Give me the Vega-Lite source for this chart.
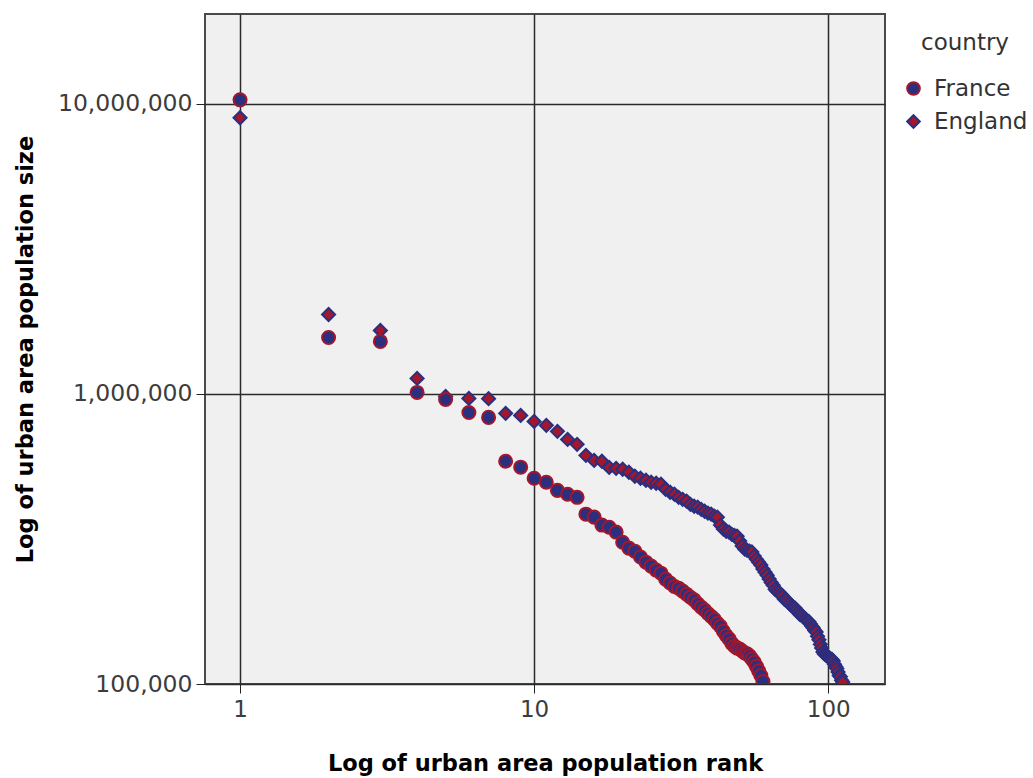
{
  "$schema": "https://vega.github.io/schema/vega-lite/v6.json",
  "autosize": {"type": "none"},
  "padding": {"left": 205, "top": 14, "right": 148, "bottom": 94},
  "width": 680,
  "height": 670,
  "background": "white",
  "config": {
    "view": {"fill": "#f0f0f0", "stroke": "#4a4a4a", "strokeWidth": 2},
    "font": "DejaVu Sans",
    "legend": {
      "orient": "none", "legendX": 697, "legendY": 18,
      "titleFont": "DejaVu Sans", "titleFontSize": 23, "titleFontWeight": "normal", "titleColor": "#333",
      "titleAnchor": "middle", "titlePadding": 22,
      "labelFont": "DejaVu Sans", "labelFontSize": 23, "labelColor": "#333",
      "symbolSize": 160, "symbolStrokeWidth": 2, "rowPadding": 9, "labelOffset": 9
    }
  },
  "data": {
    "values": [
      {"country":"England","rank":1,"population":8950000},
      {"country":"England","rank":2,"population":1878000},
      {"country":"England","rank":3,"population":1654000},
      {"country":"England","rank":4,"population":1131000},
      {"country":"England","rank":5,"population":980000},
      {"country":"England","rank":6,"population":965000},
      {"country":"England","rank":7,"population":963000},
      {"country":"England","rank":8,"population":857000},
      {"country":"England","rank":9,"population":843000},
      {"country":"England","rank":10,"population":804000},
      {"country":"England","rank":11,"population":779000},
      {"country":"England","rank":12,"population":743000},
      {"country":"England","rank":13,"population":697000},
      {"country":"England","rank":14,"population":670000},
      {"country":"England","rank":15,"population":614000},
      {"country":"England","rank":16,"population":590000},
      {"country":"England","rank":17,"population":586000},
      {"country":"England","rank":18,"population":558000},
      {"country":"England","rank":19,"population":554000},
      {"country":"England","rank":20,"population":550000},
      {"country":"England","rank":21,"population":537000},
      {"country":"England","rank":22,"population":520000},
      {"country":"England","rank":23,"population":512000},
      {"country":"England","rank":24,"population":504000},
      {"country":"England","rank":25,"population":496000},
      {"country":"England","rank":26,"population":492000},
      {"country":"England","rank":27,"population":488000},
      {"country":"England","rank":28,"population":469000},
      {"country":"England","rank":29,"population":458000},
      {"country":"England","rank":30,"population":451000},
      {"country":"England","rank":31,"population":440000},
      {"country":"England","rank":32,"population":433000},
      {"country":"England","rank":33,"population":427000},
      {"country":"England","rank":34,"population":416000},
      {"country":"England","rank":35,"population":410000},
      {"country":"England","rank":36,"population":407000},
      {"country":"England","rank":37,"population":400000},
      {"country":"England","rank":38,"population":394000},
      {"country":"England","rank":39,"population":388000},
      {"country":"England","rank":40,"population":385000},
      {"country":"England","rank":41,"population":379000},
      {"country":"England","rank":42,"population":376000},
      {"country":"England","rank":43,"population":353000},
      {"country":"England","rank":44,"population":342000},
      {"country":"England","rank":45,"population":336000},
      {"country":"England","rank":46,"population":334000},
      {"country":"England","rank":47,"population":328000},
      {"country":"England","rank":48,"population":325000},
      {"country":"England","rank":49,"population":323000},
      {"country":"England","rank":50,"population":311000},
      {"country":"England","rank":51,"population":299000},
      {"country":"England","rank":52,"population":292000},
      {"country":"England","rank":53,"population":289000},
      {"country":"England","rank":54,"population":287000},
      {"country":"England","rank":55,"population":285000},
      {"country":"England","rank":56,"population":276000},
      {"country":"England","rank":57,"population":269000},
      {"country":"England","rank":58,"population":263000},
      {"country":"England","rank":59,"population":257000},
      {"country":"England","rank":60,"population":249000},
      {"country":"England","rank":61,"population":243000},
      {"country":"England","rank":62,"population":237000},
      {"country":"England","rank":63,"population":230000},
      {"country":"England","rank":64,"population":224000},
      {"country":"England","rank":65,"population":219000},
      {"country":"England","rank":66,"population":212000},
      {"country":"England","rank":67,"population":209000},
      {"country":"England","rank":68,"population":207000},
      {"country":"England","rank":69,"population":204000},
      {"country":"England","rank":70,"population":201000},
      {"country":"England","rank":71,"population":196000},
      {"country":"England","rank":72,"population":195000},
      {"country":"England","rank":73,"population":192000},
      {"country":"England","rank":74,"population":189000},
      {"country":"England","rank":75,"population":186000},
      {"country":"England","rank":76,"population":184000},
      {"country":"England","rank":77,"population":183000},
      {"country":"England","rank":78,"population":180000},
      {"country":"England","rank":79,"population":177000},
      {"country":"England","rank":80,"population":174000},
      {"country":"England","rank":81,"population":173000},
      {"country":"England","rank":82,"population":171000},
      {"country":"England","rank":83,"population":169000},
      {"country":"England","rank":84,"population":167000},
      {"country":"England","rank":85,"population":165000},
      {"country":"England","rank":86,"population":164000},
      {"country":"England","rank":87,"population":161000},
      {"country":"England","rank":88,"population":158000},
      {"country":"England","rank":89,"population":156000},
      {"country":"England","rank":90,"population":153000},
      {"country":"England","rank":91,"population":151000},
      {"country":"England","rank":92,"population":146000},
      {"country":"England","rank":93,"population":142000},
      {"country":"England","rank":94,"population":137000},
      {"country":"England","rank":95,"population":133000},
      {"country":"England","rank":96,"population":129000},
      {"country":"England","rank":97,"population":127000},
      {"country":"England","rank":98,"population":126000},
      {"country":"England","rank":99,"population":125000},
      {"country":"England","rank":100,"population":124000},
      {"country":"England","rank":101,"population":123000},
      {"country":"England","rank":102,"population":122000},
      {"country":"England","rank":103,"population":121500},
      {"country":"England","rank":104,"population":120000},
      {"country":"England","rank":105,"population":117000},
      {"country":"England","rank":106,"population":115000},
      {"country":"England","rank":107,"population":113000},
      {"country":"England","rank":108,"population":110000},
      {"country":"England","rank":109,"population":107000},
      {"country":"England","rank":110,"population":106000},
      {"country":"England","rank":111,"population":103000},
      {"country":"England","rank":112,"population":101600},
      {"country":"France","rank":1,"population":10320000},
      {"country":"France","rank":2,"population":1565000},
      {"country":"France","rank":3,"population":1517000},
      {"country":"France","rank":4,"population":1012000},
      {"country":"France","rank":5,"population":957000},
      {"country":"France","rank":6,"population":863000},
      {"country":"France","rank":7,"population":830000},
      {"country":"France","rank":8,"population":586000},
      {"country":"France","rank":9,"population":559000},
      {"country":"France","rank":10,"population":512000},
      {"country":"France","rank":11,"population":496000},
      {"country":"France","rank":12,"population":465000},
      {"country":"France","rank":13,"population":451000},
      {"country":"France","rank":14,"population":440000},
      {"country":"France","rank":15,"population":385000},
      {"country":"France","rank":16,"population":376000},
      {"country":"France","rank":17,"population":353000},
      {"country":"France","rank":18,"population":347000},
      {"country":"France","rank":19,"population":334000},
      {"country":"France","rank":20,"population":308000},
      {"country":"France","rank":21,"population":294000},
      {"country":"France","rank":22,"population":287000},
      {"country":"France","rank":23,"population":274000},
      {"country":"France","rank":24,"population":263000},
      {"country":"France","rank":25,"population":255000},
      {"country":"France","rank":26,"population":247000},
      {"country":"France","rank":27,"population":241000},
      {"country":"France","rank":28,"population":230000},
      {"country":"France","rank":29,"population":223000},
      {"country":"France","rank":30,"population":217000},
      {"country":"France","rank":31,"population":214000},
      {"country":"France","rank":32,"population":209000},
      {"country":"France","rank":33,"population":204000},
      {"country":"France","rank":34,"population":199000},
      {"country":"France","rank":35,"population":195000},
      {"country":"France","rank":36,"population":189000},
      {"country":"France","rank":37,"population":184000},
      {"country":"France","rank":38,"population":180000},
      {"country":"France","rank":39,"population":175000},
      {"country":"France","rank":40,"population":171000},
      {"country":"France","rank":41,"population":167000},
      {"country":"France","rank":42,"population":162000},
      {"country":"France","rank":43,"population":158000},
      {"country":"France","rank":44,"population":152000},
      {"country":"France","rank":45,"population":147000},
      {"country":"France","rank":46,"population":143000},
      {"country":"France","rank":47,"population":138000},
      {"country":"France","rank":48,"population":135000},
      {"country":"France","rank":49,"population":133000},
      {"country":"France","rank":50,"population":132000},
      {"country":"France","rank":51,"population":130000},
      {"country":"France","rank":52,"population":128000},
      {"country":"France","rank":53,"population":127000},
      {"country":"France","rank":54,"population":125000},
      {"country":"France","rank":55,"population":122000},
      {"country":"France","rank":56,"population":119000},
      {"country":"France","rank":57,"population":115000},
      {"country":"France","rank":58,"population":111000},
      {"country":"France","rank":59,"population":107000},
      {"country":"France","rank":60,"population":102000}
    ]
  },
  "mark": {"type": "point", "filled": true, "size": 170, "strokeWidth": 2, "opacity": 1, "clip": true},
  "encoding": {
    "x": {
      "field": "rank", "type": "quantitative",
      "scale": {"type": "log", "domain": [0.76, 156], "nice": false},
      "axis": {
        "title": "Log of urban area population rank",
        "values": [1, 10, 100], "format": "d",
        "domain": false, "tickColor": "#222", "tickSize": 9, "tickWidth": 1,
        "labelFontSize": 23, "labelColor": "#3c3c3c", "labelPadding": 5, "labelFont": "DejaVu Sans",
        "grid": true, "gridColor": "#2a2a2a", "gridWidth": 1.5, "gridOpacity": 1,
        "titleFont": "DejaVu Sans", "titleFontWeight": "bold", "titleFontSize": 22.5, "titleColor": "#000",
        "titleBaseline": "alphabetic", "titleY": 86
      }
    },
    "y": {
      "field": "population", "type": "quantitative",
      "scale": {"type": "log", "domain": [100000, 20400000], "nice": false},
      "axis": {
        "title": "Log of urban area population size",
        "values": [100000, 1000000, 10000000], "format": ",d",
        "domain": false, "tickColor": "#222", "tickSize": 9, "tickWidth": 1,
        "labelFontSize": 23.5, "labelColor": "#3c3c3c", "labelPadding": 4, "labelFont": "DejaVu Sans",
        "grid": true, "gridColor": "#2a2a2a", "gridWidth": 1.5, "gridOpacity": 1,
        "titleFont": "DejaVu Sans", "titleFontWeight": "bold", "titleFontSize": 22.5, "titleColor": "#000",
        "titleBaseline": "alphabetic", "titleX": -173, "titleY": 335, "titleAngle": -90
      }
    },
    "shape": {
      "field": "country", "type": "nominal", "title": "country",
      "scale": {"domain": ["France", "England"], "range": ["circle", "diamond"]}
    },
    "fill": {
      "field": "country", "type": "nominal", "title": "country",
      "scale": {"domain": ["France", "England"], "range": ["#2a2f80", "#a3172c"]}
    },
    "stroke": {
      "field": "country", "type": "nominal", "title": "country",
      "scale": {"domain": ["France", "England"], "range": ["#a3172c", "#2a2f80"]}
    }
  }
}
